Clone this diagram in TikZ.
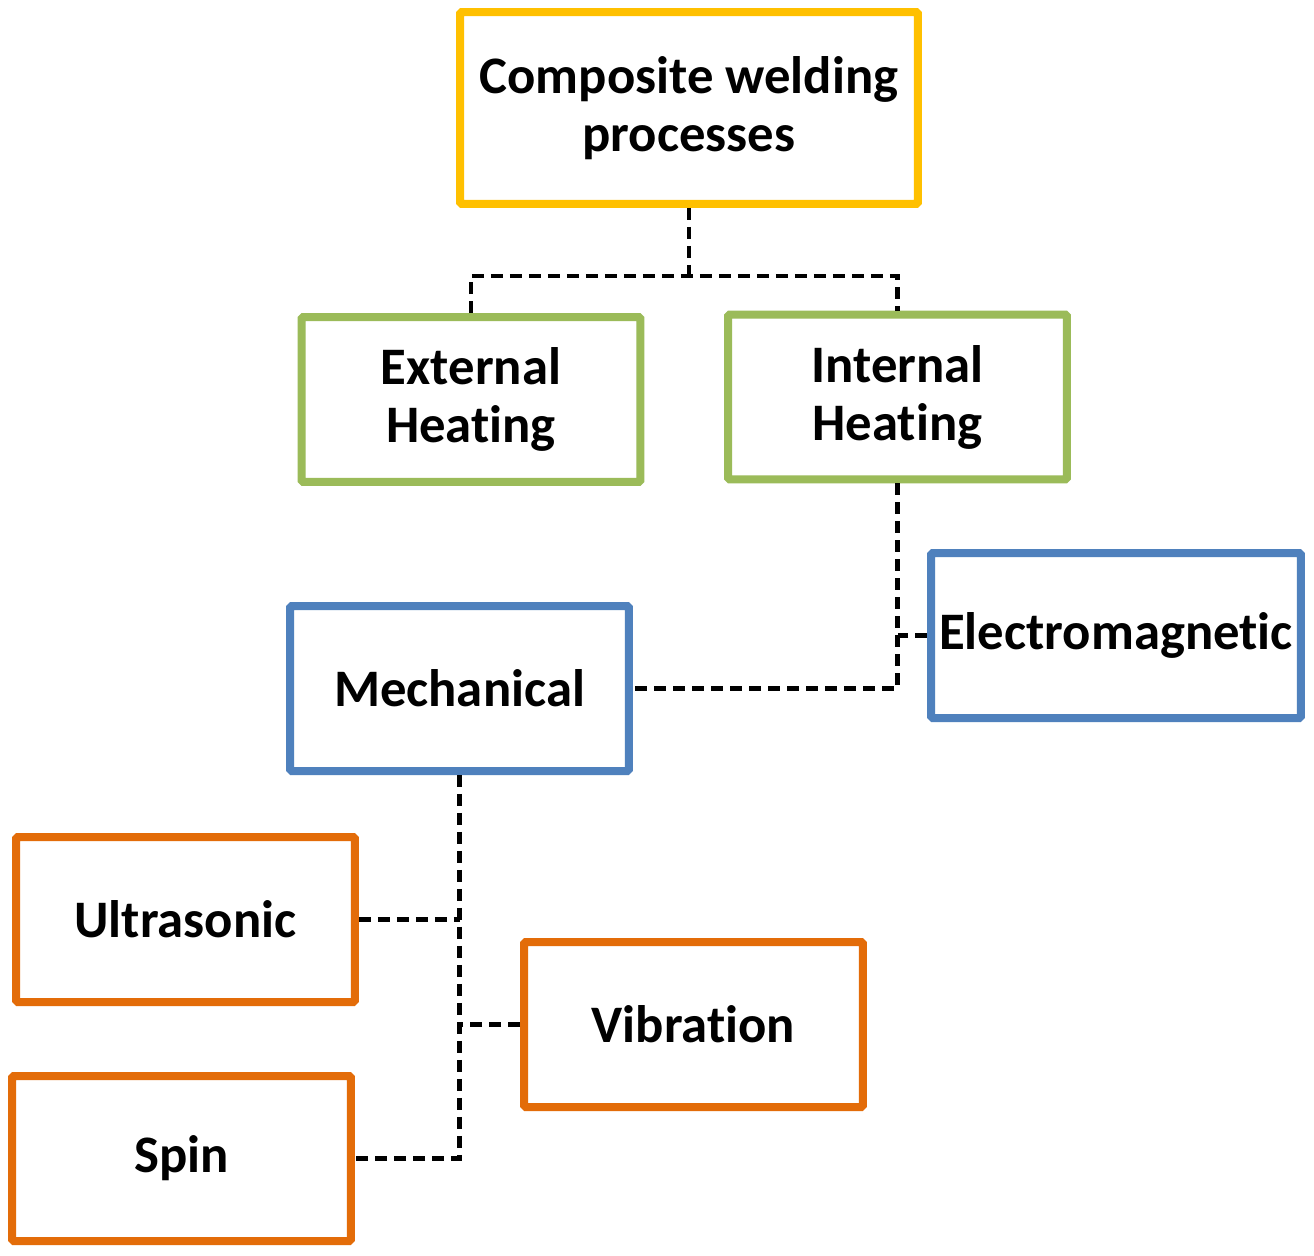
\documentclass[tikz,border=0pt]{standalone}
\usepackage{fontspec}
\setmainfont{Carlito}[RawFeature={-liga;-clig}]
\definecolor{boxyellow}{HTML}{FFC000}
\definecolor{boxgreen}{HTML}{9BBB59}
\definecolor{boxblue}{HTML}{4F81BD}
\definecolor{boxorange}{HTML}{E36C09}
\tikzset{
	procbox/.style={draw=#1, line width=0.16cm, fill=white, rounded corners=1pt, align=center,
		minimum width=6.78cm, minimum height=3.3cm, inner sep=0pt,
		font=\fontsize{30}{33}\selectfont\bfseries},
	conn/.style={line width=0.085cm, dash pattern=on 0.24cm off 0.14cm}
}
\begin{document}
\begin{tikzpicture}[x=0.02cm, y=-0.02cm]
			\useasboundingbox[fill=white] (0,0) rectangle (1314,1255);
			\node[procbox=boxyellow, minimum width=9.16cm, minimum height=3.84cm] (top) at (689,108) {Composite welding\\processes};
			\node[procbox=boxgreen] (ext) at (471,399.5) {External\\Heating};
			\node[procbox=boxgreen] (int) at (897.5,397) {Internal\\Heating};
			\node[procbox=boxblue, minimum width=7.4cm] (em) at (1116,635.5) {Electromagnetic};
			\node[procbox=boxblue] (mech) at (459.5,688.5) {Mechanical};
			\node[procbox=boxorange] (ultra) at (185.5,919.5) {Ultrasonic};
			\node[procbox=boxorange] (vib) at (693.5,1024.5) {Vibration};
			\node[procbox=boxorange] (spin) at (181.5,1158.5) {Spin};
			\coordinate (split) at (689,276);
			\draw[conn] (top.south) -- (split);
			\draw[conn] (ext.north) |- (split) -| (int.north);
			\draw[conn] (int.south) |- (mech.east);
			\draw[conn] (em.west) -- (em.west -| int.south);
			\draw[conn] (mech.south) |- (spin.east);
			\draw[conn] (ultra.east) -- (ultra.east -| mech.south);
			\draw[conn] (vib.west) -- (vib.west -| mech.south);
		\end{tikzpicture}
\end{document}
